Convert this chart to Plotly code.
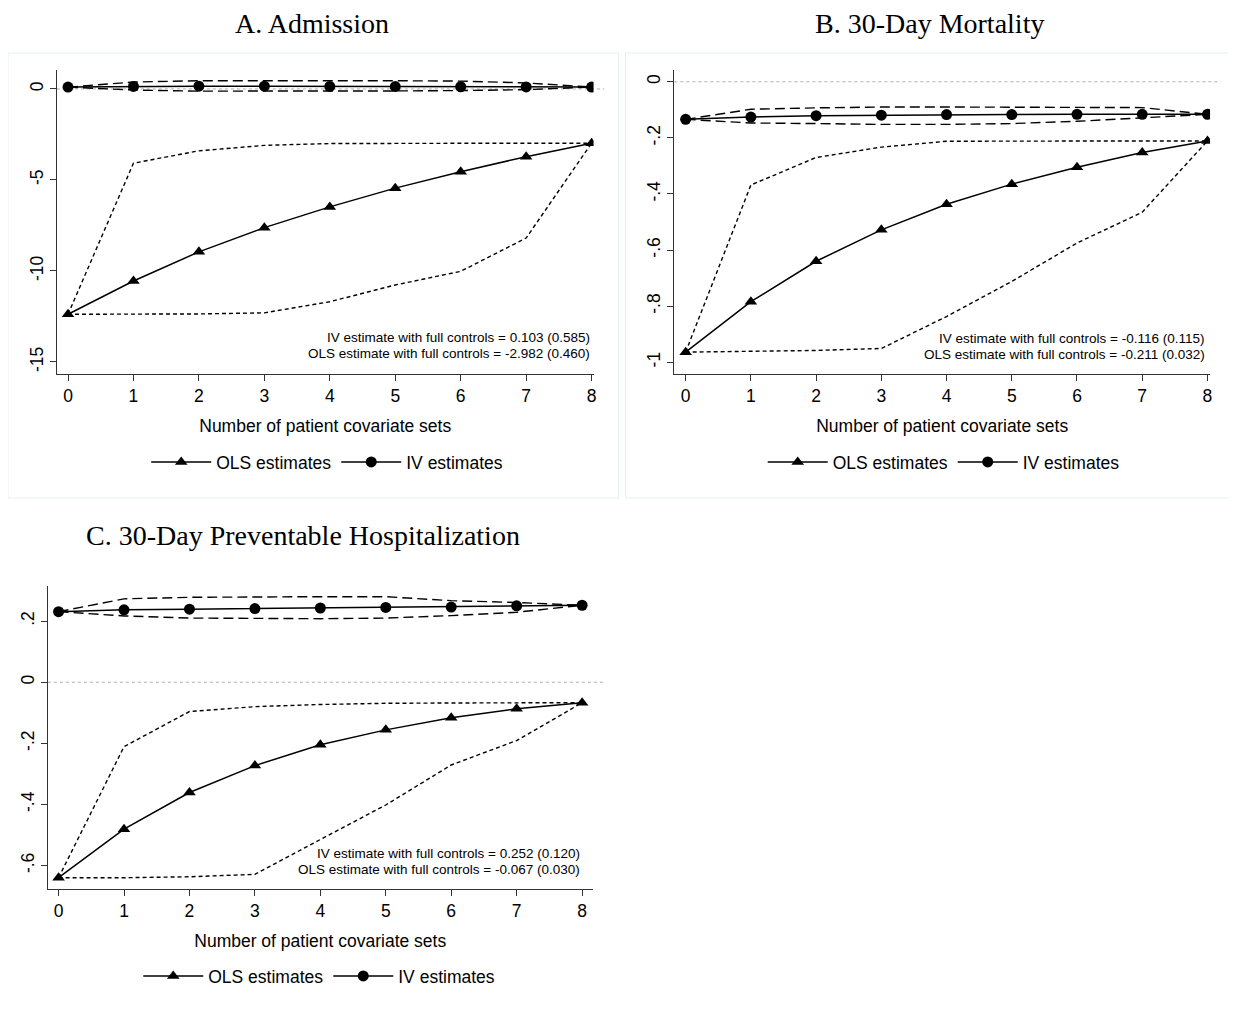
import plotly.graph_objects as go

# The page body has an 8px default margin, so the figure is offset by 8px
OFF = 8
W, H = 1236 - OFF, 1010 - OFF

x_sets = [0, 1, 2, 3, 4, 5, 6, 7, 8]

# Panel A: Admission
A_ols = [-12.38, -10.55, -8.95, -7.62, -6.48, -5.45, -4.55, -3.72, -2.98]
A_ols_hi = [-12.38, -4.08, -3.40, -3.10, -3.00, -2.98, -2.98, -2.98, -2.98]
A_ols_lo = [-12.38, -12.38, -12.36, -12.30, -11.69, -10.77, -10.02, -8.19, -2.98]
A_iv = [0.10, 0.14, 0.15, 0.15, 0.14, 0.13, 0.12, 0.11, 0.103]
A_iv_hi = [0.10, 0.38, 0.45, 0.46, 0.46, 0.45, 0.43, 0.33, 0.103]
A_iv_lo = [0.10, -0.06, -0.12, -0.13, -0.12, -0.11, -0.09, -0.04, 0.103]

# Panel B: 30-Day Mortality
B_ols = [-0.964, -0.784, -0.640, -0.528, -0.437, -0.365, -0.305, -0.252, -0.211]
B_ols_hi = [-0.964, -0.368, -0.270, -0.233, -0.212, -0.211, -0.211, -0.211, -0.211]
B_ols_lo = [-0.964, -0.962, -0.958, -0.951, -0.837, -0.712, -0.575, -0.465, -0.211]
B_iv = [-0.134, -0.126, -0.121, -0.119, -0.117, -0.117, -0.116, -0.116, -0.116]
B_iv_hi = [-0.134, -0.098, -0.093, -0.090, -0.090, -0.090, -0.090, -0.092, -0.116]
B_iv_lo = [-0.134, -0.147, -0.149, -0.152, -0.152, -0.149, -0.141, -0.129, -0.116]

# Panel C: 30-Day Preventable Hospitalization
C_ols = [-0.640, -0.481, -0.361, -0.273, -0.205, -0.156, -0.116, -0.087, -0.067]
C_ols_hi = [-0.640, -0.211, -0.096, -0.080, -0.073, -0.069, -0.068, -0.067, -0.067]
C_ols_lo = [-0.640, -0.640, -0.637, -0.629, -0.515, -0.402, -0.271, -0.191, -0.067]
C_iv = [0.231, 0.237, 0.239, 0.241, 0.243, 0.245, 0.246, 0.250, 0.252]
C_iv_hi = [0.231, 0.273, 0.278, 0.280, 0.280, 0.280, 0.267, 0.261, 0.252]
C_iv_lo = [0.231, 0.217, 0.210, 0.209, 0.208, 0.210, 0.218, 0.229, 0.252]

titles = ["A. Admission", "B. 30-Day Mortality", "C. 30-Day Preventable Hospitalization"]
notes = [
    ("IV estimate with full controls = 0.103 (0.585)", "OLS estimate with full controls = -2.982 (0.460)"),
    ("IV estimate with full controls = -0.116 (0.115)", "OLS estimate with full controls = -0.211 (0.032)"),
    ("IV estimate with full controls = 0.252 (0.120)", "OLS estimate with full controls = -0.067 (0.030)"),
]
A_yticks = [0, -5, -10, -15]
A_ylabels = ["0", "-5", "-10", "-15"]
B_yticks = [0, -0.2, -0.4, -0.6, -0.8, -1]
B_ylabels = ["0", "-.2", "-.4", "-.6", "-.8", "-1"]
C_yticks = [0.2, 0, -0.2, -0.4, -0.6]
C_ylabels = [".2", "0", "-.2", "-.4", "-.6"]

SANS = "Liberation Sans, Arial, Helvetica, sans-serif"
SERIF = "Liberation Serif, Times New Roman, serif"
AX = "#333333"

def px_x(p):
    return (p - OFF) / W

def px_y(p):
    return 1 - (p - OFF) / H

# layout in screen pixels: (left, right, top, bottom)
panels = [
    dict(data=(A_ols, A_ols_hi, A_ols_lo, A_iv, A_iv_hi, A_iv_lo), dom=(57, 595, 70, 374),
         xr=[-0.17, 8.03], yr=[-15.66, 1.04], yt=(A_yticks, A_ylabels),
         title_xy=(313, 24), legend_xy=(328, 462), note_y=(337, 353)),
    dict(data=(B_ols, B_ols_hi, B_ols_lo, B_iv, B_iv_hi, B_iv_lo), dom=(676, 1213, 70, 374),
         xr=[-0.173, 8.04], yr=[-1.042, 0.042], yt=(B_yticks, B_ylabels),
         title_xy=(932, 24), legend_xy=(946, 462), note_y=(338, 354)),
    dict(data=(C_ols, C_ols_hi, C_ols_lo, C_iv, C_iv_hi, C_iv_lo), dom=(48, 594, 586, 889),
         xr=[-0.163, 8.16], yr=[-0.677, 0.315], yt=(C_yticks, C_ylabels),
         title_xy=(304, 535), legend_xy=(320, 976), note_y=(853, 869)),
]

fig = go.Figure()
annotations = []
shapes = []

# faint panel frames (A and B)
for (l, t, r, b) in [(8, 53, 620, 498), (627, 53, 1235, 498)]:
    shapes.append(dict(type="rect", xref="paper", yref="paper",
                       x0=px_x(l), x1=px_x(r), y0=px_y(b), y1=px_y(t),
                       line=dict(color="#e6eef0", width=1), layer="below"))

for i, p in enumerate(panels):
    n = "" if i == 0 else str(i + 1)
    xa, ya = "x" + n, "y" + n
    leg = "legend" + n
    ols, ols_hi, ols_lo, iv, iv_hi, iv_lo = p["data"]
    # confidence bounds
    for ser in (ols_hi, ols_lo):
        fig.add_trace(go.Scatter(x=x_sets, y=ser, mode="lines", xaxis=xa, yaxis=ya,
                                 line=dict(color="black", width=1.4, dash="4px,3px"),
                                 showlegend=False, hoverinfo="skip"))
    for ser in (iv_hi, iv_lo):
        fig.add_trace(go.Scatter(x=x_sets, y=ser, mode="lines", xaxis=xa, yaxis=ya,
                                 line=dict(color="black", width=1.4, dash="10px,5px"),
                                 showlegend=False, hoverinfo="skip"))
    fig.add_trace(go.Scatter(x=x_sets, y=ols, mode="lines+markers", name="OLS estimates",
                             xaxis=xa, yaxis=ya, legend=leg,
                             line=dict(color="black", width=1.5),
                             marker=dict(symbol="triangle-up", size=11, color="black")))
    fig.add_trace(go.Scatter(x=x_sets, y=iv, mode="lines+markers", name="IV estimates",
                             xaxis=xa, yaxis=ya, legend=leg,
                             line=dict(color="black", width=1.5),
                             marker=dict(symbol="circle", size=11, color="black")))

    l, r, t, b = p["dom"]
    common = dict(showline=True, linecolor=AX, linewidth=1.3, ticks="outside", ticklen=6,
                  tickcolor=AX, tickwidth=1.2, showgrid=False, zeroline=False,
                  tickfont=dict(family=SANS, size=17.5, color="black"), fixedrange=True)
    fig.update_layout(**{
        "xaxis" + n: dict(domain=[px_x(l), px_x(r)], range=p["xr"], anchor=ya,
                          tickvals=x_sets, ticktext=[str(v) for v in x_sets],
                          title=dict(text="Number of patient covariate sets", standoff=14,
                                     font=dict(family=SANS, size=17.5, color="black")),
                          **common),
        "yaxis" + n: dict(domain=[px_y(b), px_y(t)], range=p["yr"], anchor=xa,
                          tickvals=p["yt"][0], ticktext=p["yt"][1], tickangle=-90,
                          **common),
        leg: dict(orientation="h", x=px_x(p["legend_xy"][0]), xanchor="center",
                  y=px_y(p["legend_xy"][1]), yanchor="middle", bgcolor="rgba(0,0,0,0)",
                  font=dict(family=SANS, size=17.5, color="black"), itemwidth=60,
                  tracegroupgap=0),
    })
    # zero reference line
    shapes.append(dict(type="line", xref=xa + " domain", yref=ya, x0=0, x1=1.02, y0=0, y1=0,
                       line=dict(color="#b0b0b0", width=1, dash="dot"), layer="below"))
    # panel title
    annotations.append(dict(text=titles[i], xref="paper", yref="paper",
                            x=px_x(p["title_xy"][0]), y=px_y(p["title_xy"][1]),
                            xanchor="center", yanchor="middle", showarrow=False, borderpad=0,
                            font=dict(family=SERIF, size=28, color="black")))
    # estimate notes
    for k in range(2):
        annotations.append(dict(text=notes[i][k], xref=xa, yref="paper",
                                x=8, y=px_y(p["note_y"][k]),
                                xanchor="right", yanchor="middle", showarrow=False,
                                font=dict(family=SANS, size=13.5, color="black")))

fig.update_layout(width=W, height=H, autosize=False,
                  margin=dict(l=0, r=0, t=0, b=0),
                  paper_bgcolor="white", plot_bgcolor="white",
                  annotations=annotations, shapes=shapes)

fig.write_html("out.html")
